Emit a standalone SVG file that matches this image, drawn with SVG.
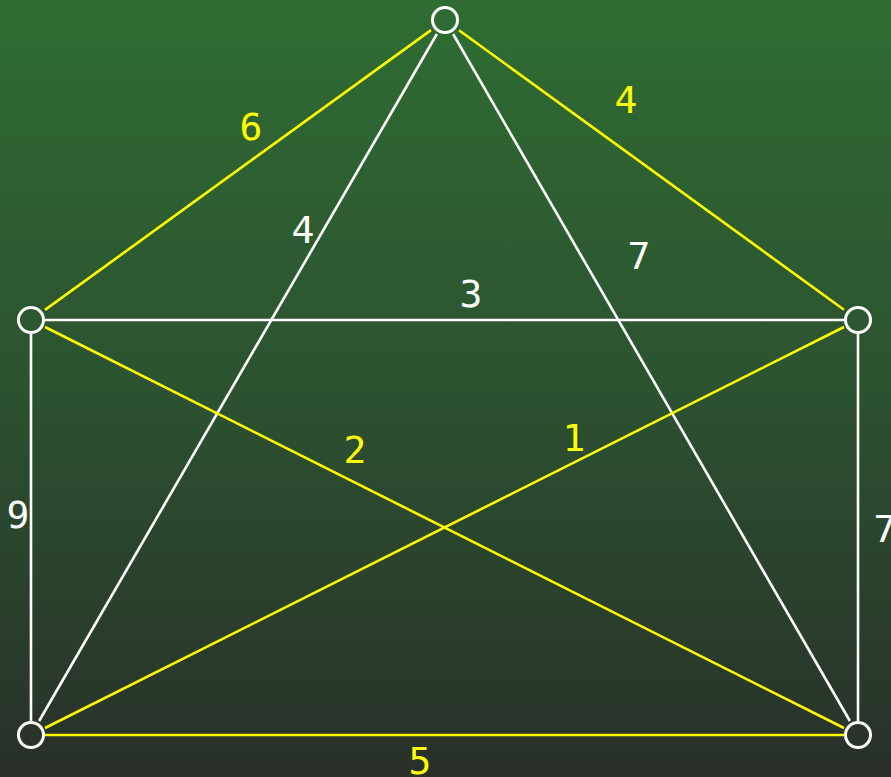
<svg xmlns="http://www.w3.org/2000/svg" width="891" height="777" viewBox="0 0 891 777">
  <defs>
    <linearGradient id="bg" x1="0" y1="0" x2="0" y2="1">
      <stop offset="0" stop-color="#2f6c33"/>
      <stop offset="0.5" stop-color="#2c5230"/>
      <stop offset="1" stop-color="#29302a"/>
    </linearGradient>
    <style>
      .w { stroke: #ffffff; stroke-width: 2.6; fill: none; }
      .y { stroke: #ffff00; stroke-width: 2.6; fill: none; }
      .node { fill: none; stroke: #ffffff; stroke-width: 3; }
      .lbl { font-family: "DejaVu Sans Mono", "Liberation Mono", monospace; font-size: 38px; text-anchor: middle; }
      .lw { fill: #ffffff; }
      .ly { fill: #ffff00; }
    </style>
  </defs>
  <rect x="0" y="0" width="891" height="777" fill="url(#bg)"/>
  <g id="connectors">
    <line class="y" x1="431" y1="30.1" x2="45" y2="309.9"/>
    <line class="y" x1="459" y1="30.2" x2="844" y2="309.8"/>
    <line class="w" x1="436.9" y1="34" x2="39.1" y2="721"/>
    <line class="w" x1="453.1" y1="34" x2="849.9" y2="721"/>
    <line class="w" x1="45" y1="320" x2="844" y2="320"/>
    <line class="w" x1="31" y1="334" x2="31" y2="721"/>
    <line class="w" x1="858" y1="334" x2="858" y2="721"/>
    <line class="y" x1="45" y1="327" x2="844" y2="728"/>
    <line class="y" x1="45" y1="728" x2="844" y2="327"/>
    <line class="y" x1="45" y1="735" x2="844" y2="735"/>
  </g>
  <g id="labels">
    <text class="lbl ly" x="251" y="140">6</text>
    <text class="lbl ly" x="626" y="113">4</text>
    <text class="lbl lw" x="303" y="243">4</text>
    <text class="lbl lw" x="639" y="269">7</text>
    <text class="lbl lw" x="471" y="307">3</text>
    <text class="lbl ly" x="355" y="463">2</text>
    <text class="lbl ly" x="574" y="451">1</text>
    <text class="lbl lw" x="18" y="528">9</text>
    <text class="lbl lw" x="885" y="542">7</text>
    <text class="lbl ly" x="420" y="774">5</text>
  </g>
  <g id="node-top"><circle class="node" cx="445" cy="20" r="12.5"/></g>
  <g id="node-left"><circle class="node" cx="31" cy="320" r="12.5"/></g>
  <g id="node-right"><circle class="node" cx="858" cy="320" r="12.5"/></g>
  <g id="node-bottom-left"><circle class="node" cx="31" cy="735" r="12.5"/></g>
  <g id="node-bottom-right"><circle class="node" cx="858" cy="735" r="12.5"/></g>
</svg>
